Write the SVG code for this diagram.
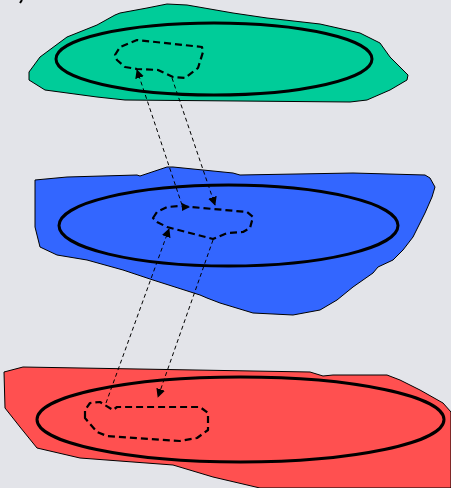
<svg xmlns="http://www.w3.org/2000/svg" width="451" height="488" viewBox="0 0 451 488">
<style>
.blob{stroke:#000;stroke-width:1;stroke-linejoin:round}
.ring{fill:none;stroke:#000;stroke-width:3}
.zone{fill:none;stroke:#000;stroke-width:2.2;stroke-dasharray:7 4;stroke-linejoin:round}
.link{fill:none;stroke:#000;stroke-width:1;stroke-dasharray:4 3}
.head{fill:#000}
</style>
<defs>
<marker id="arr" viewBox="0 0 10 10" refX="9" refY="5" markerWidth="9" markerHeight="9" markerUnits="userSpaceOnUse" orient="auto">
<path d="M0,0 L10,5 L0,10 z" fill="#000"/>
</marker>
</defs>
<rect width="451" height="488" fill="#e3e4e9"/>
<path d="M22,0 L20,3" stroke="#000" stroke-width="2"/>
<g id="layer-top">
<path class="blob" fill="#00cc99" d="M29,72 L40,57 L67,37 L97,25 L115,15 L120,13 L147,8 L167,4 L187,5 L233,13 L267,18 L320,24 L360,33 L380,43 L390,57 L400,67 L408,75 L407,80 L390,90 L367,100 L350,102 L125,100 L97,97 L45,90 L29,80 Z"/>
<ellipse class="ring" cx="214" cy="59" rx="158" ry="36"/>
<path class="zone" d="M115,55 L120,47 L137,40 L202,47 L203,52 L198,68 L185,78 L173,77 L158,70 L137,69 L125,67 L117,60 Z"/>
</g>
<g id="layer-middle">
<path class="blob" fill="#3366ff" d="M35,180 L67,177 L137,175 L140,176 L167,167 L173,167 L233,173 L240,175 L353,173 L425,175 L430,178 L435,187 L432,197 L425,213 L420,223 L413,237 L403,250 L393,260 L378,267 L373,273 L353,287 L337,300 L320,310 L293,315 L253,313 L220,303 L207,298 L200,295 L153,280 L123,270 L87,260 L57,255 L40,247 L35,227 Z"/>
<ellipse class="ring" cx="228.5" cy="225.5" rx="169.5" ry="40.5"/>
<path class="zone" d="M153,218 L157,212 L167,207 L180,206 L247,212 L253,217 L250,228 L243,232 L227,233 L213,239 L167,227 L157,222 Z"/>
</g>
<g id="layer-bottom">
<path class="blob" fill="#ff5050" d="M4,372 L23,367 L310,372 L323,376 L333,375 L387,375 L400,380 L420,390 L443,403 L451,412 L451,488 L260,488 L213,477 L173,465 L133,462 L80,458 L37,448 L20,427 L5,408 Z"/>
<ellipse class="ring" cx="240.5" cy="419.5" rx="203.5" ry="42.5"/>
<path class="zone" d="M85,418 L85,410 L90,403 L100,402 L113,410 L117,407 L200,407 L208,413 L208,430 L197,438 L180,441 L107,436 L97,432 Z"/>
</g>
<g id="connectors">
<path class="link" d="M182,205 L137,70" marker-end="url(#arr)"/>
<path class="head" d="M190,207 L182,203 L182,211 Z"/>
<path class="link" d="M172,78 L215,205" marker-end="url(#arr)"/>
<path class="link" d="M106,403 L169,229" marker-end="url(#arr)"/>
<path class="link" d="M213,240 L158,397" marker-end="url(#arr)"/>
</g>
</svg>
